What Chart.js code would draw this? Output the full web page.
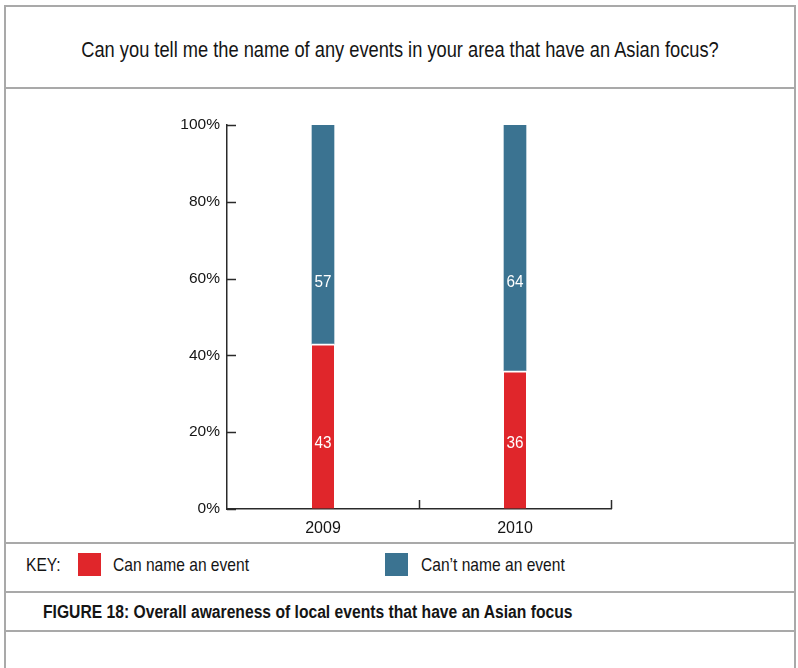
<!DOCTYPE html>
<html>
<head>
<meta charset="utf-8">
<script src="https://cdn.jsdelivr.net/npm/chart.js@4/dist/chart.umd.min.js"></script>
<style>
	body { margin: 0; background: #fff; width: 798px; height: 668px; overflow: hidden; position: relative; font-family: 'Liberation Sans', Arial, sans-serif; color: #151515; }
	.frame { position: absolute; left: 4px; top: 5px; width: 788px; height: 700px; border: 2px solid #a9a9a9; border-bottom: none; }
	.rule { position: absolute; left: 4px; width: 792px; height: 2px; background: #a9a9a9; }
	/* testo stretto, come un carattere condensato */
	.narrow { display: inline-block; white-space: nowrap; transform-origin: 0 50%; }
	#title { position: absolute; left: 6px; width: 788px; top: 35px; line-height: 30px; font-size: 22px; text-align: center; }
	#title .narrow { transform: scaleX(0.83); transform-origin: 50% 50%; }
	#chartBox { position: absolute; left: 0; top: 89px; }
	#key { position: absolute; left: 26px; top: 553px; height: 23px; font-size: 19px; line-height: 23px; }
	#key span { position: absolute; top: 0; transform: scaleX(0.82); }
	#key i { position: absolute; top: 0; width: 23px; height: 23px; }
	#caption { position: absolute; left: 43px; top: 600px; line-height: 24px; font-size: 18px; font-weight: bold; }
	#caption .narrow { transform: scaleX(0.87); }
</style>
</head>
<body>
<div class="frame"></div>
<div class="rule" style="top:87px"></div>
<div class="rule" style="top:542px"></div>
<div class="rule" style="top:591px"></div>
<div class="rule" style="top:630px"></div>

<div id="title"><span class="narrow">Can you tell me the name of any events in your area that have an Asian focus?</span></div>
<div id="chartBox"><canvas id="graphAsian" width="798" height="453"></canvas></div>
<div id="key"></div>
<div id="caption"><span class="narrow">FIGURE 18: Overall awareness of local events that have an Asian focus</span></div>

<script>
// Anni e percentuali
let anni = ['2009', '2010'];
let canName = [43, 36];
let cantName = [57, 64];
let seriesNames = ['Can name an event', 'Can\u2019t name an event'];
let yTicks = [0, 20, 40, 60, 80, 100];

let red = '#e0262b';
let blue = '#3b7391';

// Tacche verso l'interno degli assi
let innerTicks = {
	id: 'innerTicks',
	afterDraw(chart) {
		let ctx = chart.ctx;
		let x = chart.scales.x, y = chart.scales.y;
		ctx.save();
		ctx.strokeStyle = '#2a2a2a';
		ctx.lineWidth = 1.5;
		ctx.beginPath();
		yTicks.forEach(function(v) {
			let py = Math.round(y.getPixelForValue(v)) + 0.5;
			ctx.moveTo(x.left, py);
			ctx.lineTo(x.left + 9, py);
		});
		let step = x.width / anni.length;
		for (let k = 1; k <= anni.length; k++) {
			let px = Math.round(x.left + k * step) + 0.5;
			ctx.moveTo(px, y.bottom);
			ctx.lineTo(px, y.bottom - 9);
		}
		ctx.stroke();
		ctx.restore();
	}
};

// Valori scritti dentro le barre
let barLabels = {
	id: 'barLabels',
	afterDatasetsDraw(chart) {
		let ctx = chart.ctx;
		let y = chart.scales.y;
		ctx.save();
		ctx.fillStyle = '#fff';
		ctx.font = '17px "Liberation Sans", sans-serif';
		ctx.textAlign = 'center';
		ctx.textBaseline = 'middle';
		chart.data.datasets.forEach(function(ds, i) {
			chart.getDatasetMeta(i).data.forEach(function(bar, j) {
				ctx.save();
				ctx.translate(bar.x, y.getPixelForValue(ds.labelAt));
				ctx.scale(0.9, 1);
				ctx.fillText(String(ds.data[j]), 0, 0);
				ctx.restore();
			});
		});
		ctx.restore();
	}
};

let config = {
	type: 'bar',
	data: {
		labels: anni,
		datasets: [{
			label: seriesNames[0],
			data: canName,
			backgroundColor: red,
			borderColor: '#fff',
			borderWidth: { top: 2, left: 0, right: 0, bottom: 0 },
			borderSkipped: false,
			barThickness: 22,
			labelAt: 17
		}, {
			label: seriesNames[1],
			data: cantName,
			backgroundColor: blue,
			borderWidth: 0,
			barThickness: 22,
			labelAt: 59
		}]
	},
	options: {
		responsive: false,
		devicePixelRatio: 1,
		animation: false,
		layout: { padding: { left: 0, top: 36, right: 187, bottom: 0 } },
		plugins: {
			legend: { display: false },
			title: { display: false },
			tooltip: { enabled: false }
		},
		scales: {
			x: {
				stacked: true,
				afterFit: function(s) { s.height = 33; },
				grid: { display: true, drawOnChartArea: false, drawTicks: false },
				border: { display: true, color: '#2a2a2a', width: 1.5 },
				ticks: { padding: 10, color: '#151515', font: { family: 'Liberation Sans', size: 16 } }
			},
			y: {
				stacked: true,
				min: 0,
				max: 100,
				afterFit: function(s) { s.width = 227; },
				afterBuildTicks: function(s) { s.ticks = yTicks.map(function(v) { return { value: v }; }); },
				grid: { display: true, drawOnChartArea: false, drawTicks: false },
				border: { display: true, color: '#2a2a2a', width: 1.5 },
				ticks: {
					padding: 7,
					color: '#151515',
					font: { family: 'Liberation Sans', size: 15.5 },
					callback: function(v) { return v + '%'; }
				}
			}
		}
	},
	plugins: [innerTicks, barLabels]
};

let ctxAsian = document.getElementById('graphAsian').getContext('2d');
window.asianChart = new Chart(ctxAsian, config);

// Legenda costruita dai dataset
let key = document.getElementById('key');
let keyPos = [[52, 87], [359, 395]];
key.innerHTML = '<span class="narrow" style="left:0">KEY:</span>';
config.data.datasets.forEach(function(ds, i) {
	key.innerHTML += '<i style="left:' + keyPos[i][0] + 'px;background:' + ds.backgroundColor + '"></i>' +
		'<span class="narrow" style="left:' + keyPos[i][1] + 'px">' + ds.label + '</span>';
});
</script>
</body>
</html>
